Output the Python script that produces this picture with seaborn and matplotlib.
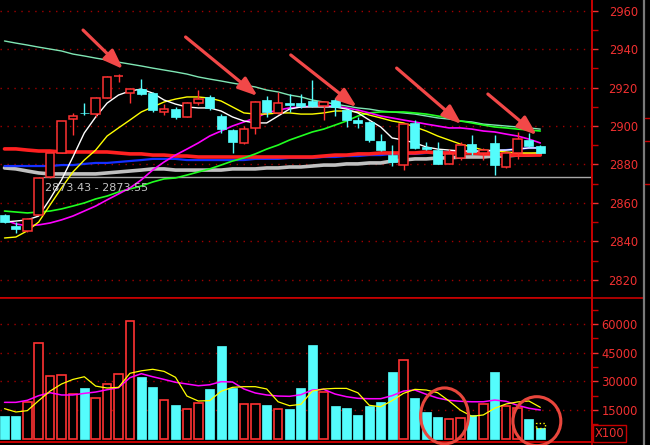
import matplotlib
matplotlib.use("Agg")
import matplotlib.pyplot as plt
from matplotlib.patches import Ellipse
from matplotlib.lines import Line2D
import numpy as np
import pandas as pd
import seaborn as sns

# ---------------- data ----------------
open_ = [2853.8, 2848.1, 2845.5, 2853.8, 2873.5, 2886.0, 2903.6, 2907.0, 2906.2, 2914.5,
         2926.0, 2917.1, 2919.2, 2917.1, 2907.3, 2908.8, 2904.7, 2912.0, 2915.0, 2905.2,
         2897.9, 2891.2, 2899.0, 2913.5, 2906.8, 2912.0, 2912.0, 2913.0, 2910.4, 2913.5,
         2908.3, 2903.1, 2902.1, 2892.2, 2884.9, 2879.7, 2901.6, 2889.1, 2887.5, 2880.3,
         2883.4, 2890.6, 2886.0, 2891.2, 2878.7, 2886.0, 2892.7, 2889.6]
high = [2854.5, 2850.1, 2852.0, 2873.5, 2886.2, 2902.8, 2906.8, 2912.0, 2915.0, 2926.0,
        2927.0, 2919.5, 2924.4, 2917.5, 2911.4, 2909.9, 2912.5, 2918.7, 2916.1, 2906.0,
        2898.5, 2900.0, 2912.8, 2915.6, 2917.7, 2916.6, 2916.6, 2923.9, 2913.0, 2914.5,
        2908.8, 2904.7, 2902.5, 2895.8, 2890.1, 2901.3, 2903.1, 2891.7, 2891.7, 2888.0,
        2891.7, 2895.3, 2888.5, 2895.3, 2887.0, 2896.9, 2896.4, 2890.0]
low = [2849.5, 2844.4, 2845.0, 2853.5, 2873.2, 2885.8, 2895.3, 2905.7, 2904.7, 2914.3,
       2922.9, 2912.0, 2916.3, 2907.3, 2905.7, 2903.6, 2904.5, 2910.9, 2908.3, 2896.4,
       2886.0, 2890.8, 2895.8, 2904.7, 2906.5, 2907.3, 2909.5, 2910.0, 2903.1, 2905.2,
       2899.5, 2899.0, 2891.7, 2887.2, 2879.2, 2877.1, 2888.2, 2887.5, 2880.0, 2880.0,
       2882.3, 2885.0, 2882.3, 2874.5, 2878.2, 2882.9, 2889.3, 2885.8]
close = [2850.1, 2846.5, 2851.7, 2873.0, 2886.0, 2902.6, 2905.2, 2906.8, 2914.5, 2925.5,
         2926.2, 2919.2, 2916.6, 2908.3, 2908.8, 2904.7, 2912.0, 2914.0, 2909.4, 2898.4,
         2891.7, 2898.4, 2912.5, 2907.3, 2912.0, 2910.9, 2910.4, 2910.4, 2912.5, 2909.9,
         2903.1, 2901.6, 2892.7, 2887.5, 2881.3, 2901.0, 2888.6, 2888.0, 2880.3, 2885.4,
         2890.1, 2886.5, 2887.5, 2879.7, 2886.0, 2893.2, 2889.6, 2886.0]
volume = [11900, 11900, 19200, 50000, 32700, 33200, 23300, 26500, 21200, 28500,
          33600, 61400, 32200, 27000, 20200, 17600, 15500, 18600, 25900, 48400,
          26500, 18100, 18100, 17600, 15500, 15500, 26500, 49000, 24400, 17100,
          16100, 12400, 17100, 19200, 34800, 41000, 21200, 14000, 11300, 10300,
          10800, 12400, 18100, 34800, 17100, 16100, 10300, 5600]
vol_forecast = 8200

ma5 = [2850.1, 2850.6, 2851.2, 2853.2, 2862.1, 2872.0, 2883.9, 2896.4, 2904.7, 2911.9,
       2916.1, 2918.2, 2919.2, 2917.1, 2913.5, 2911.4, 2909.9, 2909.4, 2909.4, 2907.8,
       2904.7, 2902.6, 2901.6, 2901.6, 2905.2, 2908.8, 2909.9, 2909.9, 2909.9, 2909.9,
       2908.8, 2906.8, 2903.1, 2899.5, 2893.8, 2892.7, 2891.2, 2889.1, 2888.0, 2887.5,
       2887.0, 2887.0, 2887.0, 2887.5, 2887.5, 2888.0, 2888.6, 2888.6]
ma10 = [2841.8, 2842.3, 2845.5, 2850.1, 2859.0, 2867.8, 2876.1, 2882.3, 2887.5, 2894.8,
        2899.0, 2903.1, 2907.3, 2909.9, 2912.5, 2914.0, 2915.1, 2915.1, 2914.5, 2913.0,
        2909.9, 2906.8, 2906.2, 2906.2, 2906.8, 2906.8, 2906.2, 2906.2, 2906.8, 2907.8,
        2907.8, 2907.3, 2905.7, 2904.2, 2902.6, 2901.6, 2899.5, 2897.4, 2894.8, 2892.7,
        2890.6, 2889.1, 2887.5, 2887.0, 2886.5, 2886.0, 2886.0, 2886.0]
ma20 = [2851.2, 2849.1, 2848.1, 2848.6, 2849.6, 2851.2, 2853.2, 2855.8, 2858.4, 2861.6,
        2864.7, 2867.8, 2872.0, 2877.1, 2881.3, 2884.9, 2888.0, 2891.2, 2894.8, 2897.4,
        2900.0, 2902.1, 2904.2, 2906.8, 2908.3, 2909.4, 2909.9, 2910.4, 2910.4, 2910.4,
        2909.4, 2908.3, 2906.8, 2905.2, 2904.2, 2903.1, 2902.1, 2901.0, 2900.0, 2899.0,
        2899.0, 2898.4, 2897.4, 2896.9, 2895.8, 2894.8, 2893.2, 2891.2]
ma30 = [2855.8, 2855.3, 2854.8, 2855.3, 2855.8, 2856.9, 2858.4, 2860.0, 2862.1, 2863.6,
        2865.7, 2867.3, 2868.8, 2870.9, 2872.5, 2873.0, 2874.5, 2876.1, 2877.7, 2879.7,
        2881.8, 2883.4, 2885.5, 2888.0, 2890.1, 2892.7, 2894.8, 2896.9, 2898.4, 2900.5,
        2902.6, 2905.2, 2906.8, 2907.3, 2907.3, 2907.3, 2906.8, 2906.2, 2905.2, 2904.2,
        2902.6, 2901.6, 2900.5, 2899.5, 2899.0, 2898.4, 2897.9, 2897.4]
ma60 = [2944.2, 2943.1, 2942.1, 2941.0, 2940.0, 2939.0, 2937.4, 2936.4, 2935.3, 2934.3,
        2933.2, 2932.2, 2931.2, 2930.1, 2929.1, 2928.1, 2927.0, 2925.5, 2924.4, 2923.4,
        2922.3, 2921.3, 2920.3, 2918.7, 2917.7, 2916.1, 2915.1, 2913.5, 2912.5, 2911.4,
        2910.4, 2909.4, 2908.8, 2907.8, 2907.3, 2906.8, 2906.2, 2905.2, 2904.2, 2903.6,
        2902.6, 2902.1, 2901.0, 2900.5, 2900.0, 2899.5, 2899.0, 2898.4]
ma120 = [2888.1, 2888.1, 2887.5, 2887.0, 2887.0, 2886.5, 2886.5, 2886.5, 2886.5, 2886.5,
         2886.0, 2885.5, 2885.5, 2884.9, 2884.9, 2884.4, 2884.4, 2883.9, 2883.9, 2883.9,
         2883.9, 2883.9, 2883.9, 2883.9, 2883.9, 2883.9, 2883.9, 2883.9, 2884.4, 2884.9,
         2884.9, 2885.5, 2885.5, 2886.0, 2886.0, 2886.0, 2886.0, 2886.5, 2886.0, 2886.0,
         2886.0, 2886.0, 2885.5, 2885.5, 2884.9, 2884.9, 2884.9, 2884.9]
ma_blue = [2879.2, 2879.2, 2879.2, 2879.2, 2879.2, 2879.7, 2879.7, 2880.3, 2880.8, 2880.8,
           2881.3, 2881.8, 2882.3, 2882.9, 2882.9, 2882.9, 2882.3, 2882.3, 2882.3, 2882.3,
           2882.3, 2882.3, 2882.9, 2882.9, 2882.9, 2883.4, 2883.4, 2883.4, 2883.9, 2883.9,
           2884.4, 2884.4, 2884.9, 2884.9, 2885.5, 2885.5, 2885.5, 2886.0, 2886.0, 2886.5,
           2886.5, 2886.5, 2887.0, 2887.0, 2887.5, 2888.0, 2888.6, 2888.6]
ma250 = [2878.2, 2877.7, 2876.6, 2875.6, 2875.1, 2875.1, 2875.1, 2875.1, 2875.1, 2875.6,
         2876.1, 2876.6, 2877.1, 2877.7, 2877.7, 2877.1, 2877.1, 2877.1, 2877.1, 2877.1,
         2877.7, 2877.7, 2877.7, 2878.2, 2878.2, 2878.7, 2878.7, 2879.2, 2879.7, 2879.7,
         2880.3, 2880.3, 2880.8, 2880.8, 2881.8, 2882.3, 2882.9, 2882.9, 2883.4, 2883.4,
         2883.9, 2883.9, 2883.9, 2884.4, 2884.4, 2884.9, 2884.9, 2885.5]

vol_ma5 = [15700, 13950, 14650, 19900, 24900, 28600, 31000, 32400, 27500, 26500,
           26850, 34200, 35500, 36300, 35200, 32100, 22300, 19700, 19900, 24800,
           26850, 27200, 27200, 26000, 19300, 17250, 17950, 24900, 26000, 26300,
           26300, 24000, 17450, 16700, 19900, 23700, 25800, 25450, 24050, 19700,
           14850, 11700, 12400, 15900, 18150, 19200, 19700, 16400]
vol_ma10 = [19000, 19000, 20050, 22500, 24050, 22850, 22850, 23700, 24400, 25600,
            26650, 31900, 34000, 32400, 31000, 29500, 28600, 27700, 28200, 29800,
            29650, 26000, 23900, 22850, 22300, 22150, 23000, 25450, 25800, 23350,
            21950, 21100, 20900, 20900, 22500, 24900, 25450, 23200, 21250, 20050,
            19550, 19300, 19300, 20200, 19550, 17450, 15900, 15000]

price_ticks = [2820, 2840, 2860, 2880, 2900, 2920, 2940, 2960]
vol_ticks = [15000, 30000, 45000, 60000]
level_lo, level_hi = 2873.43, 2873.55
level_start = 3.4            # candle index where the level line begins

# annotation arrows: tip (candle index, price), tail offset in pixels
arrow_tips = [(10.4, 2929.6), (22.2, 2915.6), (30.9, 2909.9), (40.1, 2901.0), (46.7, 2895.3)]
arrow_tails = [(-40, 39), (-72, 59), (-66, 52), (-65, 56), (-49, 41)]
# circles on volume: (center index, center volume, width idx, height volume)
circles = [(38.6, 11900, 4.2, 29300), (46.7, 9160, 4.2, 25600)]

# ---------------- styling ----------------
sns.set_theme(style="dark", rc={"axes.facecolor": "black", "figure.facecolor": "black",
                                "savefig.facecolor": "black"})
plt.rcParams["font.family"] = ["DejaVu Sans"]

RED = "#ff3232"
CYAN = "#54fcfc"
AXRED = "#c80000"
LBLRED = "#f03030"
GRIDRED = "#a00000"

W, H = 650, 445
fig = plt.figure(figsize=(W / 100, H / 100), dpi=100)
ax_p = fig.add_axes([0, 1 - 298 / H, 592 / W, 298 / H])
ax_v = fig.add_axes([0, 1 - 442 / H, 592 / W, 144 / H])

n = len(close)
idx = np.arange(n)
xlim = (-4.5 / 11.4, (592 - 4.5) / 11.4)

df = pd.DataFrame({"idx": idx, "open": open_, "high": high, "low": low, "close": close,
                   "volume": volume, "ma5": ma5, "ma10": ma10, "ma20": ma20, "ma30": ma30,
                   "ma60": ma60, "ma120": ma120, "ma_blue": ma_blue, "ma250": ma250,
                   "vma5": vol_ma5, "vma10": vol_ma10})
up = df["close"] >= df["open"]

# ---------------- price panel ----------------
ax = ax_p
ax.set_xlim(*xlim)
ax.set_ylim(2810.6, 2965.5)

# level line and label
ax.hlines((level_lo + level_hi) / 2, level_start, xlim[1], color="#a8a8a8", lw=1.0, zorder=2)
ax.text(level_start + 0.15, 2867.8, f"{level_lo:.2f} - {level_hi:.2f}", color="#c4c4c4",
        fontsize=8, ha="left", va="center", zorder=6)

# moving averages
ma_styles = [("ma250", "#c0c0c0", 2.6), ("ma_blue", "#1530ff", 1.6), ("ma120", "#ff2020", 2.6),
             ("ma60", "#7fe6b4", 1.0), ("ma30", "#20ff20", 1.2), ("ma20", "#ff00ff", 1.2),
             ("ma10", "#ffff00", 1.0), ("ma5", "#ffffff", 1.0)]
for col, color, lw in ma_styles:
    sns.lineplot(data=df, x="idx", y=col, ax=ax, color=color, linewidth=lw, legend=False,
                 zorder=3)

# candles
wick_colors = np.where(up, RED, CYAN)
ax.vlines(df["idx"], df["low"], df["high"], colors=wick_colors, lw=1.0, zorder=4)
body_bottom = np.minimum(df["open"], df["close"])
body_h = np.maximum(np.abs(df["close"] - df["open"]), 0.2)
ax.bar(df["idx"][up], body_h[up], bottom=body_bottom[up], width=0.76,
       facecolor="black", edgecolor=RED, linewidth=1.1, zorder=5)
ax.bar(df["idx"][~up], body_h[~up], bottom=body_bottom[~up], width=0.8,
       facecolor=CYAN, edgecolor=CYAN, linewidth=0.5, zorder=5)

# arrows
for (tx, ty), (dx, dy) in zip(arrow_tips, arrow_tails):
    ax.annotate("", xy=(tx, ty), xytext=(dx, dy), textcoords="offset pixels",
                arrowprops=dict(arrowstyle="-|>,head_length=0.9,head_width=0.33",
                                color="#f24848", lw=2.3, shrinkA=0, shrinkB=0,
                                mutation_scale=13),
                annotation_clip=False, zorder=8)

# ---------------- volume panel ----------------
axv = ax_v
axv.set_xlim(*xlim)
axv.set_ylim(-1750, 73600)
axv.bar(df["idx"][up], df["volume"][up], width=0.76, facecolor="black", edgecolor=RED,
        linewidth=1.2, zorder=3)
axv.bar(df["idx"][~up], df["volume"][~up], width=0.8, facecolor=CYAN, edgecolor=CYAN,
        linewidth=0.5, zorder=3)
axv.bar([idx[-1]], [vol_forecast - volume[-1]], bottom=[volume[-1]], width=0.76,
        facecolor="none", edgecolor="#ffff00", linestyle=":", linewidth=1.0, zorder=3)
sns.lineplot(data=df, x="idx", y="vma10", ax=axv, color="#ff00ff", linewidth=1.1,
             legend=False, zorder=4)
sns.lineplot(data=df, x="idx", y="vma5", ax=axv, color="#ffff00", linewidth=0.9,
             legend=False, zorder=4)
for cx, cy, cw, ch in circles:
    axv.add_patch(Ellipse((cx, cy), cw, ch, fill=False, edgecolor="#e8463c", lw=2.2,
                          clip_on=False, zorder=9))

# ---------------- axes decoration ----------------
for a, ticks, minor in ((ax_p, price_ticks, np.arange(2820, 2966, 10)),
                        (ax_v, vol_ticks, np.arange(7500, 73000, 7500))):
    a.set_xlabel("")
    a.set_ylabel("")
    a.set_xticks([])
    a.yaxis.tick_right()
    a.set_yticks(ticks, labels=[str(t) for t in ticks])
    a.set_yticks(minor, minor=True)
    a.tick_params(axis="y", which="major", colors=LBLRED, labelsize=8.3, length=4,
                  width=1, pad=29, right=True, left=False)
    a.tick_params(axis="y", which="minor", colors=AXRED, length=4, width=1, right=True,
                  left=False)
    for lbl in a.get_yticklabels():
        lbl.set_horizontalalignment("right")
    a.grid(False)
    for yv in ticks:
        a.axhline(yv, color=GRIDRED, lw=1.0, linestyle=(0, (1, 4)), zorder=1)
    for s in ("left", "top"):
        a.spines[s].set_visible(False)
    a.spines["right"].set_color(AXRED)
    a.spines["right"].set_linewidth(1.2)
    a.spines["bottom"].set_color(AXRED)
    a.spines["bottom"].set_linewidth(1.4)
ax_v.spines["top"].set_visible(False)

# separator, axis extension and window border
fig.add_artist(Line2D([0, 643 / W], [1 - 298 / H, 1 - 298 / H], color=AXRED, lw=1.2))
fig.add_artist(Line2D([592 / W, 592 / W], [0, 1], color=AXRED, lw=1.2))
fig.add_artist(Line2D([643.5 / W, 643.5 / W], [0, 1], color="#7a7a7a", lw=1.6))
for yy in (118, 141, 184):
    fig.add_artist(Line2D([645 / W, 1], [1 - yy / H, 1 - yy / H], color=AXRED, lw=1.0))

fig.text(609.5 / W, 1 - 433.5 / H, "X100", color=LBLRED, fontsize=8.3, ha="center",
         va="center", bbox=dict(boxstyle="square,pad=0.15", facecolor="black",
                                edgecolor=AXRED, linewidth=1.0))

fig.savefig("out.png", dpi=100, facecolor="black")
